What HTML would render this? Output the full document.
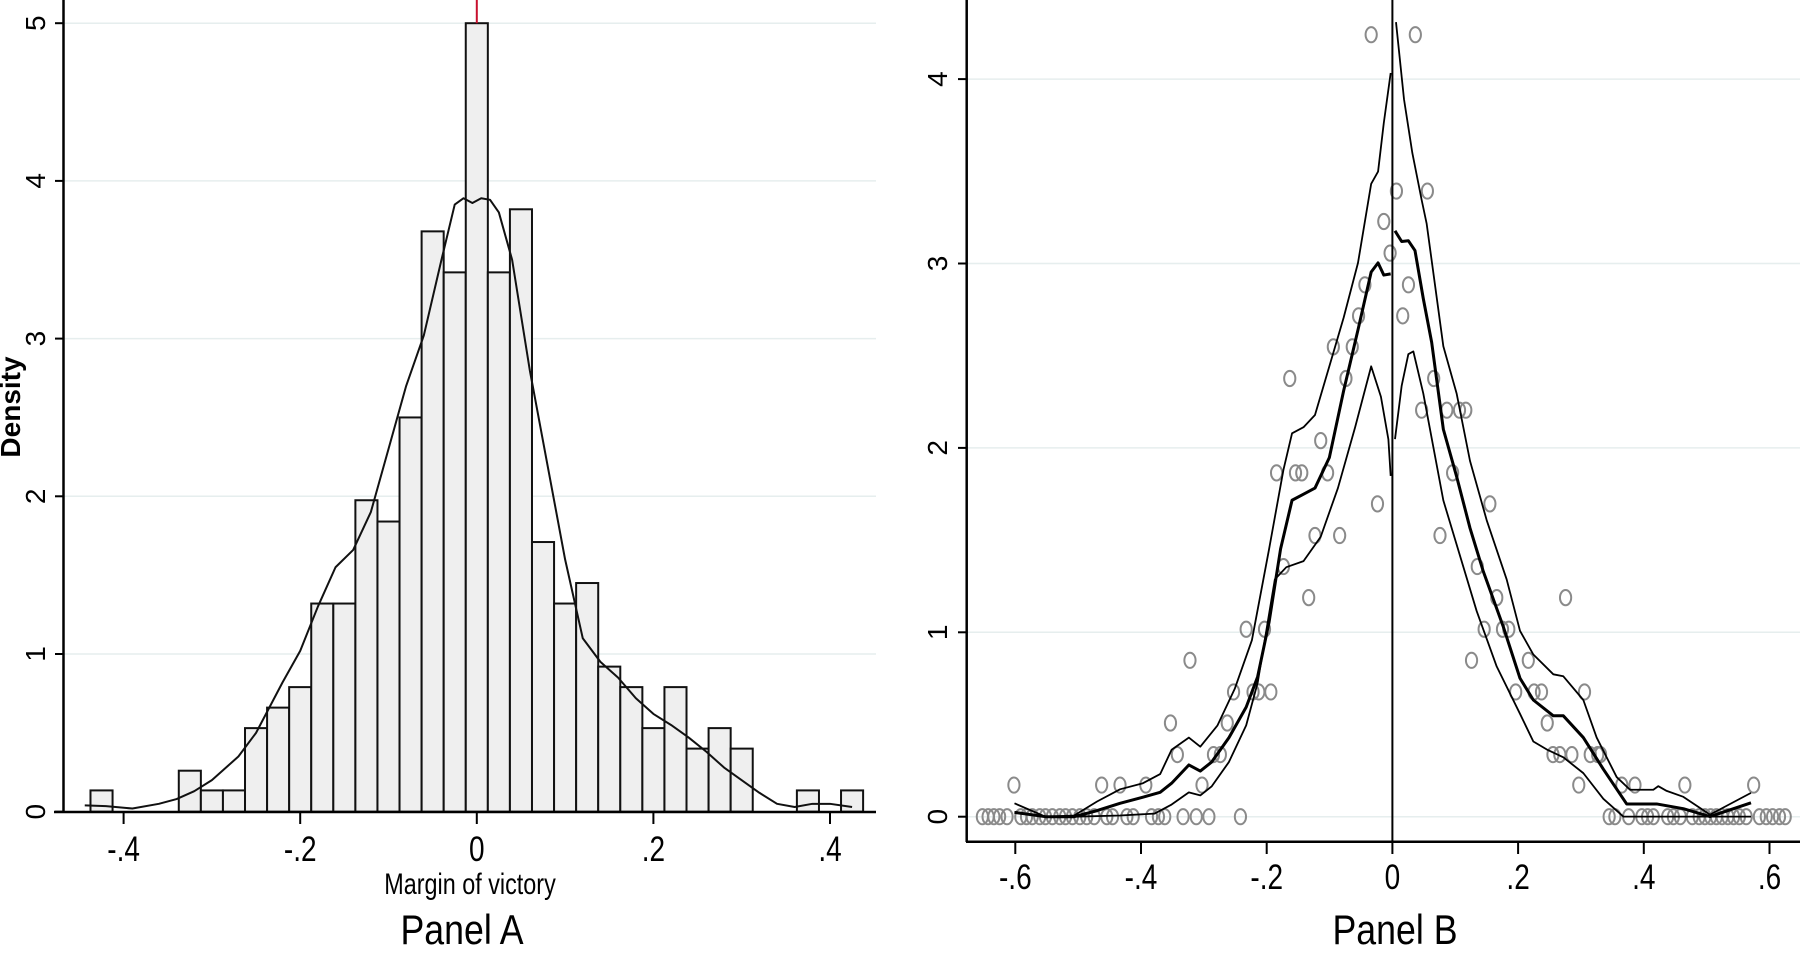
<!DOCTYPE html>
<html><head><meta charset="utf-8"><style>
html,body{margin:0;padding:0;background:#fff;}
svg{display:block;font-family:"Liberation Sans",Arial,sans-serif;}
</style></head><body>
<svg id="s" width="1800" height="955" xmlns="http://www.w3.org/2000/svg">
<rect width="1800" height="955" fill="#fff"/>
<g id="A"></g>
<g id="B"></g>
</svg>
<script>
const NS="http://www.w3.org/2000/svg";
function el(p,t,a,txt){const e=document.createElementNS(NS,t);for(const k in a)e.setAttribute(k,a[k]);if(txt!==undefined)e.textContent=txt;p.appendChild(e);return e;}
const A=document.getElementById('A'),B=document.getElementById('B');
// ---- Panel A ----
const ax0=476.8,axs=883,ay0=811.7,ays=157.7;
const AX=v=>ax0+v*axs, AY=d=>ay0-d*ays;
for(let k=1;k<=5;k++) el(A,'line',{x1:64,x2:876,y1:AY(k),y2:AY(k),stroke:'#e6eeee','stroke-width':1.5});
const hs=[0.135,0,0,0,0.26,0.135,0.135,0.53,0.66,0.79,1.32,1.32,1.975,1.84,2.5,3.68,3.42,5.0,3.42,3.82,1.71,1.32,1.45,0.92,0.79,0.53,0.79,0.40,0.53,0.40,0,0,0.135,0,0.135];
hs.forEach((h,i)=>{if(h<=0)return;const x0=AX(-0.4375+0.025*i),x1=AX(-0.4125+0.025*i);
el(A,'rect',{x:x0,y:AY(h),width:x1-x0,height:AY(0)-AY(h),fill:'#efefef',stroke:'#111','stroke-width':2});});
const kde=[[-0.444,0.04],[-0.42,0.035],[-0.39,0.02],[-0.36,0.05],[-0.34,0.08],[-0.32,0.13],[-0.3,0.2],[-0.27,0.35],[-0.25,0.5],[-0.22,0.82],[-0.2,1.02],[-0.18,1.3],[-0.16,1.55],[-0.14,1.66],[-0.12,1.9],[-0.1,2.3],[-0.08,2.7],[-0.06,3.02],[-0.04,3.5],[-0.025,3.85],[-0.015,3.89],[-0.005,3.86],[0.005,3.89],[0.015,3.88],[0.025,3.8],[0.04,3.5],[0.06,2.8],[0.08,2.2],[0.1,1.6],[0.12,1.1],[0.14,0.95],[0.16,0.85],[0.18,0.72],[0.2,0.62],[0.22,0.55],[0.24,0.47],[0.26,0.38],[0.28,0.28],[0.3,0.2],[0.32,0.12],[0.34,0.05],[0.36,0.03],[0.38,0.05],[0.4,0.05],[0.425,0.03]];
el(A,'polyline',{points:kde.map(p=>AX(p[0])+','+AY(p[1])).join(' '),fill:'none',stroke:'#111','stroke-width':2,'stroke-linejoin':'round'});
el(A,'line',{x1:AX(0),x2:AX(0),y1:0,y2:AY(5),stroke:'#c8102e','stroke-width':2});
el(A,'line',{x1:63.5,x2:63.5,y1:0,y2:812,stroke:'#000','stroke-width':2.5});
el(A,'line',{x1:54,x2:876,y1:812,y2:812,stroke:'#000','stroke-width':2.5});
for(let k=0;k<=5;k++){el(A,'line',{x1:55,x2:64,y1:AY(k),y2:AY(k),stroke:'#000','stroke-width':2});
el(A,'text',{x:0,y:0,'font-size':28,'text-anchor':'middle',transform:`translate(45,${AY(k)}) rotate(-90)`},String(k));}
[-0.4,-0.2,0,0.2,0.4].forEach(v=>{el(A,'line',{x1:AX(v),x2:AX(v),y1:812,y2:824,stroke:'#000','stroke-width':2});
el(A,'text',{x:0,y:0,'font-size':35,'text-anchor':'middle',transform:`translate(${AX(v)},861) scale(0.8,1)`},v==0?'0':(v<0?'-':'')+'.'+Math.round(Math.abs(v)*10));});
el(A,'text',{x:0,y:0,'font-size':28,'text-anchor':'middle','font-weight':'bold',transform:'translate(20,407) rotate(-90)'},'Density');
el(A,'text',{x:0,y:0,'font-size':30,'text-anchor':'middle',transform:'translate(470,894) scale(0.78,1)'},'Margin of victory');
el(A,'text',{x:0,y:0,'font-size':42,'text-anchor':'middle',transform:'translate(462,944) scale(0.85,1)'},'Panel A');
// ---- Panel B ----
const bx0=1392.4,bxs=628.5,by0=816.7,bys=184.4;
const BX=X=>bx0+(X-855)/1096*bxs, BY=Y=>by0-(1340-Y)/303*bys;
const DY=d=>by0-d*bys, DX=v=>bx0+v*bxs;
for(let k=0;k<=4;k++) el(B,'line',{x1:967,x2:1800,y1:DY(k),y2:DY(k),stroke:'#e6eeee','stroke-width':1.5});
const pts={1340:[140,150,160,170,183,207,217,227,240,250,262,275,285,297,310,322,335,357,367,392,403,435,447,458,490,513,535,590,1233,1243,1267,1290,1300,1310,1335,1345,1357,1378,1390,1400,1410,1420,1430,1440,1450,1460,1472,1495,1507,1518,1530,1540],
1288:[195,348,380,425,523,1180,1255,1278,1365,1485],1238:[480,543,555,1135,1147,1168,1200,1213,1218],1186:[468,567,1125],
1135:[578,612,622,643,1070,1102,1115,1190],1083:[502,993,1092],1032:[600,632,1015,1047,1058],980:[709,1037,1157],929:[665,1003],
878:[720,763,938],826:[829,1025],775:[653,686,697,742,960],722:[730],672:[906,950,972,983],620:[676,774,927],568:[752,785],
517:[796,873],466:[807,883],414:[851],362:[840],312:[862,916],55:[818,895]};
for(const Y in pts) pts[Y].forEach(X=>el(B,'ellipse',{cx:BX(X),cy:BY(+Y),rx:5.6,ry:7.6,fill:'none',stroke:'#8a8a8a','stroke-width':2}));
function line(arr,w){el(B,'polyline',{points:arr.map(p=>BX(p[0])+','+BY(p[1])).join(' '),fill:'none',stroke:'#000','stroke-width':w,'stroke-linejoin':'round'});}
function lineR(arr,w){el(B,'polyline',{points:arr.map(p=>(1390+p[0]/3)+','+(200+p[1]/2.53)).join(' '),fill:'none',stroke:'#000','stroke-width':w,'stroke-linejoin':'round'});}
line([[196,1333],[250,1340],[300,1340],[340,1330],[380,1318],[420,1308],[450,1300],[470,1285],[500,1255],[520,1265],[540,1250],[570,1210],[600,1160],[620,1110],[640,1020],[660,900],[680,820],[700,810],[720,800],[745,750],[770,640],[795,540],[818,445],[830,430],[840,450],[852,448]],3);
line([[196,1318],[250,1340],[300,1338],[340,1315],[380,1295],[420,1285],[450,1270],[470,1230],[500,1210],[520,1225],[550,1190],[580,1130],[610,1050],[640,900],[665,770],[680,710],[700,700],[720,680],[745,600],[770,520],[795,430],[818,300],[830,280],[840,200],[852,118]],1.8);
line([[196,1332],[250,1340],[300,1340],[380,1338],[440,1335],[470,1320],[500,1300],[520,1305],[540,1290],[570,1250],[600,1190],[620,1120],[650,950],[670,930],[700,920],[730,880],[760,800],[790,700],[818,600],[835,650],[848,720],[852,780]],1.8);
// right side
lineR([[15,78],[35,105],[55,103],[75,128],[100,250],[125,360],[160,580],[200,700],[240,830],[280,940],[340,1080],[390,1210],[430,1265],[490,1305],[520,1305],[580,1360],[640,1440],[710,1528],[800,1528],[880,1540],[960,1560],[1083,1525]],3);
lineR([[18,-450],[42,-255],[67,-119],[95,0],[110,60],[160,370],[200,490],[240,660],[290,810],[350,960],[390,1090],[430,1150],[490,1200],[520,1205],[580,1265],[620,1360],[680,1460],[720,1492],[790,1492],[805,1483],[830,1495],[880,1510],[960,1555],[1083,1500]],1.8);
lineR([[15,605],[35,470],[55,390],[70,383],[100,490],[160,760],[210,900],[260,1040],[320,1180],[390,1300],[430,1370],[470,1390],[520,1410],[580,1450],[640,1515],[700,1560],[800,1560],[1083,1560]],1.8);
el(B,'line',{x1:1392.4,x2:1392.4,y1:0,y2:842,stroke:'#000','stroke-width':2});
el(B,'line',{x1:966.7,x2:966.7,y1:0,y2:842,stroke:'#000','stroke-width':2.5});
el(B,'line',{x1:966,x2:1800,y1:841.7,y2:841.7,stroke:'#000','stroke-width':2.5});
for(let k=0;k<=4;k++){el(B,'line',{x1:958,x2:967,y1:DY(k),y2:DY(k),stroke:'#000','stroke-width':2});
el(B,'text',{x:0,y:0,'font-size':28,'text-anchor':'middle',transform:`translate(947,${DY(k)}) rotate(-90)`},String(k));}
[-0.6,-0.4,-0.2,0,0.2,0.4,0.6].forEach(v=>{el(B,'line',{x1:DX(v),x2:DX(v),y1:842,y2:854,stroke:'#000','stroke-width':2});
el(B,'text',{x:0,y:0,'font-size':35,'text-anchor':'middle',transform:`translate(${DX(v)},889) scale(0.8,1)`},v==0?'0':(v<0?'-':'')+'.'+Math.round(Math.abs(v)*10));});
el(B,'text',{x:0,y:0,'font-size':42,'text-anchor':'middle',transform:'translate(1395,944) scale(0.85,1)'},'Panel B');
</script>
</body></html>
